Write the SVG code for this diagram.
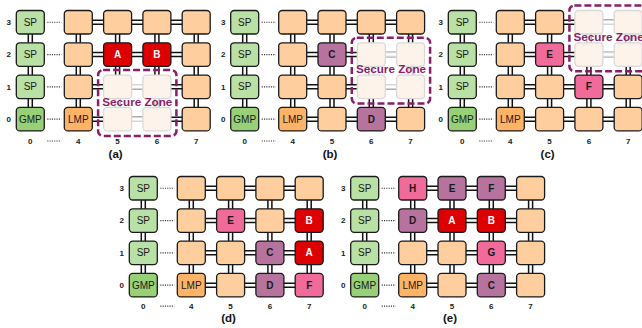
<svg xmlns="http://www.w3.org/2000/svg" width="642" height="328" viewBox="0 0 642 328">
<style>
.n{stroke:#1a1a1a;stroke-width:1.3}
.pl{fill:#ffce9f}.sp{fill:#b9e0a5}.gmp{fill:#97d077}.lmp{fill:#ffb366}.red{fill:#dd0000}.pur{fill:#b5739d}.pink{fill:#f06a9a}
.zc{fill:#fdf3ea;stroke:#d9d9d9;stroke-width:1.3}
text{font-family:"Liberation Sans",Arial,sans-serif;text-anchor:middle}
.t{font-size:10px;fill:#1a1a1a}
.tb{font-size:10px;font-weight:bold;fill:#1a1a1a}
.tw{font-size:10px;font-weight:bold;fill:#ffffff}
.lab{font-size:8px;font-weight:bold;fill:#222}
.cap{font-size:11.5px;font-weight:bold;fill:#111}
.lo{fill:none;stroke:#111;stroke-width:5.5}
.go{fill:none;stroke:#d6d6d6;stroke-width:5.5}
.li{fill:none;stroke:#fff;stroke-width:2.5}
.dot{fill:none;stroke:#333;stroke-width:1.2;stroke-dasharray:1.1 1.2}
.zone{fill:none;stroke:#8b1e6b;stroke-width:2.5;stroke-dasharray:7 3}
.zt{font-size:11.7px;font-weight:bold;fill:#8b1e6b}
</style>
<defs>
<path id="grid" d="M14 12V108M62 12V108M101.3 12V108M140.6 12V108M179.9 12V108M62 11.75H180M62 44.05H180M62 76.35H180M62 108.65H180"/>
<path id="dots" d="M31 11.75H45M31 44.05H45M31 76.35H45M31 108.65H45"/>
</defs>

<!-- Panel (a) -->
<g id="panel-a" transform="translate(16.3,10.5)">
<g id="a-links">
<use href="#grid" class="lo"/><use href="#grid" class="li"/>
<path class="go" d="M101.3 76.35V108.65M140.6 76.35V108.65M101.3 76.35H140.6M101.3 108.65H140.6"/>
<path class="li" d="M101.3 76.35V108.65M140.6 76.35V108.65M101.3 76.35H140.6M101.3 108.65H140.6"/>
<use href="#dots" class="dot"/>
</g>
<g id="a-c0r3"><rect class="n sp" x="0" y="0" width="28" height="23.5" rx="3.5"/><text class="t" x="14" y="15.3">SP</text></g>
<g id="a-c0r2"><rect class="n sp" x="0" y="32.3" width="28" height="23.5" rx="3.5"/><text class="t" x="14" y="47.6">SP</text></g>
<g id="a-c0r1"><rect class="n sp" x="0" y="64.6" width="28" height="23.5" rx="3.5"/><text class="t" x="14" y="79.9">SP</text></g>
<g id="a-c0r0"><rect class="n gmp" x="0" y="96.9" width="28" height="23.5" rx="3.5"/><text class="t" x="14" y="112.2">GMP</text></g>
<g id="a-c4r3"><rect class="n pl" x="48" y="0" width="28" height="23.5" rx="3.5"/></g>
<g id="a-c4r2"><rect class="n pl" x="48" y="32.3" width="28" height="23.5" rx="3.5"/></g>
<g id="a-c4r1"><rect class="n pl" x="48" y="64.6" width="28" height="23.5" rx="3.5"/></g>
<g id="a-c4r0"><rect class="n lmp" x="48" y="96.9" width="28" height="23.5" rx="3.5"/><text class="t" x="62" y="112.2">LMP</text></g>
<g id="a-c5r3"><rect class="n pl" x="87.3" y="0" width="28" height="23.5" rx="3.5"/></g>
<g id="a-c5r2"><rect class="n red" x="87.3" y="32.3" width="28" height="23.5" rx="3.5"/><text class="tw" x="101.3" y="47.6">A</text></g>
<g id="a-c5r1"><rect class="zc" x="87.3" y="64.6" width="28" height="23.5" rx="3.5"/></g>
<g id="a-c5r0"><rect class="zc" x="87.3" y="96.9" width="28" height="23.5" rx="3.5"/></g>
<g id="a-c6r3"><rect class="n pl" x="126.6" y="0" width="28" height="23.5" rx="3.5"/></g>
<g id="a-c6r2"><rect class="n red" x="126.6" y="32.3" width="28" height="23.5" rx="3.5"/><text class="tw" x="140.6" y="47.6">B</text></g>
<g id="a-c6r1"><rect class="zc" x="126.6" y="64.6" width="28" height="23.5" rx="3.5"/></g>
<g id="a-c6r0"><rect class="zc" x="126.6" y="96.9" width="28" height="23.5" rx="3.5"/></g>
<g id="a-c7r3"><rect class="n pl" x="165.9" y="0" width="28" height="23.5" rx="3.5"/></g>
<g id="a-c7r2"><rect class="n pl" x="165.9" y="32.3" width="28" height="23.5" rx="3.5"/></g>
<g id="a-c7r1"><rect class="n pl" x="165.9" y="64.6" width="28" height="23.5" rx="3.5"/></g>
<g id="a-c7r0"><rect class="n pl" x="165.9" y="96.9" width="28" height="23.5" rx="3.5"/></g>
<g id="a-zone"><rect class="zone" x="81.8" y="59.6" width="78.3" height="65.8" rx="5"/><text class="zt" x="121" y="95.2">Secure Zone</text></g>
<g id="a-labels">
<text class="lab" x="-7.5" y="14.6">3</text><text class="lab" x="-7.5" y="46.9">2</text><text class="lab" x="-7.5" y="79.2">1</text><text class="lab" x="-7.5" y="111.5">0</text>
<text class="lab" x="14" y="133.3">0</text><text class="lab" x="62" y="133.3">4</text><text class="lab" x="101.3" y="133.3">5</text><text class="lab" x="140.6" y="133.3">6</text><text class="lab" x="179.9" y="133.3">7</text>
<path class="dot" d="M31 130.5H45"/>
<text class="cap" x="99.3" y="147">(a)</text>
</g>
</g>

<!-- Panel (b) -->
<g id="panel-b" transform="translate(230.7,10.5)">
<g id="b-links">
<use href="#grid" class="lo"/><use href="#grid" class="li"/>
<path class="go" d="M140.6 44.05V76.35M179.9 44.05V76.35M140.6 44.05H179.9M140.6 76.35H179.9"/>
<path class="li" d="M140.6 44.05V76.35M179.9 44.05V76.35M140.6 44.05H179.9M140.6 76.35H179.9"/>
<use href="#dots" class="dot"/>
</g>
<g id="b-c0r3"><rect class="n sp" x="0" y="0" width="28" height="23.5" rx="3.5"/><text class="t" x="14" y="15.3">SP</text></g>
<g id="b-c0r2"><rect class="n sp" x="0" y="32.3" width="28" height="23.5" rx="3.5"/><text class="t" x="14" y="47.6">SP</text></g>
<g id="b-c0r1"><rect class="n sp" x="0" y="64.6" width="28" height="23.5" rx="3.5"/><text class="t" x="14" y="79.9">SP</text></g>
<g id="b-c0r0"><rect class="n gmp" x="0" y="96.9" width="28" height="23.5" rx="3.5"/><text class="t" x="14" y="112.2">GMP</text></g>
<g id="b-c4r3"><rect class="n pl" x="48" y="0" width="28" height="23.5" rx="3.5"/></g>
<g id="b-c4r2"><rect class="n pl" x="48" y="32.3" width="28" height="23.5" rx="3.5"/></g>
<g id="b-c4r1"><rect class="n pl" x="48" y="64.6" width="28" height="23.5" rx="3.5"/></g>
<g id="b-c4r0"><rect class="n lmp" x="48" y="96.9" width="28" height="23.5" rx="3.5"/><text class="t" x="62" y="112.2">LMP</text></g>
<g id="b-c5r3"><rect class="n pl" x="87.3" y="0" width="28" height="23.5" rx="3.5"/></g>
<g id="b-c5r2"><rect class="n pur" x="87.3" y="32.3" width="28" height="23.5" rx="3.5"/><text class="tb" x="101.3" y="47.6">C</text></g>
<g id="b-c5r1"><rect class="n pl" x="87.3" y="64.6" width="28" height="23.5" rx="3.5"/></g>
<g id="b-c5r0"><rect class="n pl" x="87.3" y="96.9" width="28" height="23.5" rx="3.5"/></g>
<g id="b-c6r3"><rect class="n pl" x="126.6" y="0" width="28" height="23.5" rx="3.5"/></g>
<g id="b-c6r2"><rect class="zc" x="126.6" y="32.3" width="28" height="23.5" rx="3.5"/></g>
<g id="b-c6r1"><rect class="zc" x="126.6" y="64.6" width="28" height="23.5" rx="3.5"/></g>
<g id="b-c6r0"><rect class="n pur" x="126.6" y="96.9" width="28" height="23.5" rx="3.5"/><text class="tb" x="140.6" y="112.2">D</text></g>
<g id="b-c7r3"><rect class="n pl" x="165.9" y="0" width="28" height="23.5" rx="3.5"/></g>
<g id="b-c7r2"><rect class="zc" x="165.9" y="32.3" width="28" height="23.5" rx="3.5"/></g>
<g id="b-c7r1"><rect class="zc" x="165.9" y="64.6" width="28" height="23.5" rx="3.5"/></g>
<g id="b-c7r0"><rect class="n pl" x="165.9" y="96.9" width="28" height="23.5" rx="3.5"/></g>
<g id="b-zone"><rect class="zone" x="121.1" y="27.3" width="78.3" height="65.8" rx="5"/><text class="zt" x="160.3" y="62.9">Secure Zone</text></g>
<g id="b-labels">
<text class="lab" x="-7.5" y="14.6">3</text><text class="lab" x="-7.5" y="46.9">2</text><text class="lab" x="-7.5" y="79.2">1</text><text class="lab" x="-7.5" y="111.5">0</text>
<text class="lab" x="14" y="133.3">0</text><text class="lab" x="62" y="133.3">4</text><text class="lab" x="101.3" y="133.3">5</text><text class="lab" x="140.6" y="133.3">6</text><text class="lab" x="179.9" y="133.3">7</text>
<path class="dot" d="M31 130.5H45"/>
<text class="cap" x="99.3" y="147">(b)</text>
</g>
</g>

<!-- Panel (c) -->
<g id="panel-c" transform="translate(448.3,10.5)">
<g id="c-links">
<use href="#grid" class="lo"/><use href="#grid" class="li"/>
<path class="go" d="M140.6 11.75V44.05M179.9 11.75V44.05M140.6 11.75H179.9M140.6 44.05H179.9"/>
<path class="li" d="M140.6 11.75V44.05M179.9 11.75V44.05M140.6 11.75H179.9M140.6 44.05H179.9"/>
<use href="#dots" class="dot"/>
</g>
<g id="c-c0r3"><rect class="n sp" x="0" y="0" width="28" height="23.5" rx="3.5"/><text class="t" x="14" y="15.3">SP</text></g>
<g id="c-c0r2"><rect class="n sp" x="0" y="32.3" width="28" height="23.5" rx="3.5"/><text class="t" x="14" y="47.6">SP</text></g>
<g id="c-c0r1"><rect class="n sp" x="0" y="64.6" width="28" height="23.5" rx="3.5"/><text class="t" x="14" y="79.9">SP</text></g>
<g id="c-c0r0"><rect class="n gmp" x="0" y="96.9" width="28" height="23.5" rx="3.5"/><text class="t" x="14" y="112.2">GMP</text></g>
<g id="c-c4r3"><rect class="n pl" x="48" y="0" width="28" height="23.5" rx="3.5"/></g>
<g id="c-c4r2"><rect class="n pl" x="48" y="32.3" width="28" height="23.5" rx="3.5"/></g>
<g id="c-c4r1"><rect class="n pl" x="48" y="64.6" width="28" height="23.5" rx="3.5"/></g>
<g id="c-c4r0"><rect class="n lmp" x="48" y="96.9" width="28" height="23.5" rx="3.5"/><text class="t" x="62" y="112.2">LMP</text></g>
<g id="c-c5r3"><rect class="n pl" x="87.3" y="0" width="28" height="23.5" rx="3.5"/></g>
<g id="c-c5r2"><rect class="n pink" x="87.3" y="32.3" width="28" height="23.5" rx="3.5"/><text class="tb" x="101.3" y="47.6">E</text></g>
<g id="c-c5r1"><rect class="n pl" x="87.3" y="64.6" width="28" height="23.5" rx="3.5"/></g>
<g id="c-c5r0"><rect class="n pl" x="87.3" y="96.9" width="28" height="23.5" rx="3.5"/></g>
<g id="c-c6r3"><rect class="zc" x="126.6" y="0" width="28" height="23.5" rx="3.5"/></g>
<g id="c-c6r2"><rect class="zc" x="126.6" y="32.3" width="28" height="23.5" rx="3.5"/></g>
<g id="c-c6r1"><rect class="n pink" x="126.6" y="64.6" width="28" height="23.5" rx="3.5"/><text class="tb" x="140.6" y="79.9">F</text></g>
<g id="c-c6r0"><rect class="n pl" x="126.6" y="96.9" width="28" height="23.5" rx="3.5"/></g>
<g id="c-c7r3"><rect class="zc" x="165.9" y="0" width="28" height="23.5" rx="3.5"/></g>
<g id="c-c7r2"><rect class="zc" x="165.9" y="32.3" width="28" height="23.5" rx="3.5"/></g>
<g id="c-c7r1"><rect class="n pl" x="165.9" y="64.6" width="28" height="23.5" rx="3.5"/></g>
<g id="c-c7r0"><rect class="n pl" x="165.9" y="96.9" width="28" height="23.5" rx="3.5"/></g>
<g id="c-zone"><rect class="zone" x="121.1" y="-5" width="78.3" height="65.8" rx="5"/><text class="zt" x="160.3" y="30.6">Secure Zone</text></g>
<g id="c-labels">
<text class="lab" x="-7.5" y="14.6">3</text><text class="lab" x="-7.5" y="46.9">2</text><text class="lab" x="-7.5" y="79.2">1</text><text class="lab" x="-7.5" y="111.5">0</text>
<text class="lab" x="14" y="133.3">0</text><text class="lab" x="62" y="133.3">4</text><text class="lab" x="101.3" y="133.3">5</text><text class="lab" x="140.6" y="133.3">6</text><text class="lab" x="179.9" y="133.3">7</text>
<path class="dot" d="M31 130.5H45"/>
<text class="cap" x="99.3" y="147">(c)</text>
</g>
</g>

<!-- Panel (d) -->
<g id="panel-d" transform="translate(129.3,176.5)">
<g id="d-links">
<use href="#grid" class="lo"/><use href="#grid" class="li"/>
<use href="#dots" class="dot"/>
</g>
<g id="d-c0r3"><rect class="n sp" x="0" y="0" width="28" height="23.5" rx="3.5"/><text class="t" x="14" y="15.3">SP</text></g>
<g id="d-c0r2"><rect class="n sp" x="0" y="32.3" width="28" height="23.5" rx="3.5"/><text class="t" x="14" y="47.6">SP</text></g>
<g id="d-c0r1"><rect class="n sp" x="0" y="64.6" width="28" height="23.5" rx="3.5"/><text class="t" x="14" y="79.9">SP</text></g>
<g id="d-c0r0"><rect class="n gmp" x="0" y="96.9" width="28" height="23.5" rx="3.5"/><text class="t" x="14" y="112.2">GMP</text></g>
<g id="d-c4r3"><rect class="n pl" x="48" y="0" width="28" height="23.5" rx="3.5"/></g>
<g id="d-c4r2"><rect class="n pl" x="48" y="32.3" width="28" height="23.5" rx="3.5"/></g>
<g id="d-c4r1"><rect class="n pl" x="48" y="64.6" width="28" height="23.5" rx="3.5"/></g>
<g id="d-c4r0"><rect class="n lmp" x="48" y="96.9" width="28" height="23.5" rx="3.5"/><text class="t" x="62" y="112.2">LMP</text></g>
<g id="d-c5r3"><rect class="n pl" x="87.3" y="0" width="28" height="23.5" rx="3.5"/></g>
<g id="d-c5r2"><rect class="n pink" x="87.3" y="32.3" width="28" height="23.5" rx="3.5"/><text class="tb" x="101.3" y="47.6">E</text></g>
<g id="d-c5r1"><rect class="n pl" x="87.3" y="64.6" width="28" height="23.5" rx="3.5"/></g>
<g id="d-c5r0"><rect class="n pl" x="87.3" y="96.9" width="28" height="23.5" rx="3.5"/></g>
<g id="d-c6r3"><rect class="n pl" x="126.6" y="0" width="28" height="23.5" rx="3.5"/></g>
<g id="d-c6r2"><rect class="n pl" x="126.6" y="32.3" width="28" height="23.5" rx="3.5"/></g>
<g id="d-c6r1"><rect class="n pur" x="126.6" y="64.6" width="28" height="23.5" rx="3.5"/><text class="tb" x="140.6" y="79.9">C</text></g>
<g id="d-c6r0"><rect class="n pur" x="126.6" y="96.9" width="28" height="23.5" rx="3.5"/><text class="tb" x="140.6" y="112.2">D</text></g>
<g id="d-c7r3"><rect class="n pl" x="165.9" y="0" width="28" height="23.5" rx="3.5"/></g>
<g id="d-c7r2"><rect class="n red" x="165.9" y="32.3" width="28" height="23.5" rx="3.5"/><text class="tw" x="179.9" y="47.6">B</text></g>
<g id="d-c7r1"><rect class="n red" x="165.9" y="64.6" width="28" height="23.5" rx="3.5"/><text class="tw" x="179.9" y="79.9">A</text></g>
<g id="d-c7r0"><rect class="n pink" x="165.9" y="96.9" width="28" height="23.5" rx="3.5"/><text class="tb" x="179.9" y="112.2">F</text></g>
<g id="d-labels">
<text class="lab" x="-7.5" y="14.6">3</text><text class="lab" x="-7.5" y="46.9">2</text><text class="lab" x="-7.5" y="79.2">1</text><text class="lab" x="-7.5" y="111.5">0</text>
<text class="lab" x="14" y="132.5">0</text><text class="lab" x="62" y="132.5">4</text><text class="lab" x="101.3" y="132.5">5</text><text class="lab" x="140.6" y="132.5">6</text><text class="lab" x="179.9" y="132.5">7</text>
<path class="dot" d="M31 129.7H45"/>
<text class="cap" x="99.3" y="145">(d)</text>
</g>
</g>

<!-- Panel (e) -->
<g id="panel-e" transform="translate(350.7,176.5)">
<g id="e-links">
<use href="#grid" class="lo"/><use href="#grid" class="li"/>
<use href="#dots" class="dot"/>
</g>
<g id="e-c0r3"><rect class="n sp" x="0" y="0" width="28" height="23.5" rx="3.5"/><text class="t" x="14" y="15.3">SP</text></g>
<g id="e-c0r2"><rect class="n sp" x="0" y="32.3" width="28" height="23.5" rx="3.5"/><text class="t" x="14" y="47.6">SP</text></g>
<g id="e-c0r1"><rect class="n sp" x="0" y="64.6" width="28" height="23.5" rx="3.5"/><text class="t" x="14" y="79.9">SP</text></g>
<g id="e-c0r0"><rect class="n gmp" x="0" y="96.9" width="28" height="23.5" rx="3.5"/><text class="t" x="14" y="112.2">GMP</text></g>
<g id="e-c4r3"><rect class="n pink" x="48" y="0" width="28" height="23.5" rx="3.5"/><text class="tb" x="62" y="15.3">H</text></g>
<g id="e-c4r2"><rect class="n pur" x="48" y="32.3" width="28" height="23.5" rx="3.5"/><text class="tb" x="62" y="47.6">D</text></g>
<g id="e-c4r1"><rect class="n pl" x="48" y="64.6" width="28" height="23.5" rx="3.5"/></g>
<g id="e-c4r0"><rect class="n lmp" x="48" y="96.9" width="28" height="23.5" rx="3.5"/><text class="t" x="62" y="112.2">LMP</text></g>
<g id="e-c5r3"><rect class="n pur" x="87.3" y="0" width="28" height="23.5" rx="3.5"/><text class="tb" x="101.3" y="15.3">E</text></g>
<g id="e-c5r2"><rect class="n red" x="87.3" y="32.3" width="28" height="23.5" rx="3.5"/><text class="tw" x="101.3" y="47.6">A</text></g>
<g id="e-c5r1"><rect class="n pl" x="87.3" y="64.6" width="28" height="23.5" rx="3.5"/></g>
<g id="e-c5r0"><rect class="n pl" x="87.3" y="96.9" width="28" height="23.5" rx="3.5"/></g>
<g id="e-c6r3"><rect class="n pur" x="126.6" y="0" width="28" height="23.5" rx="3.5"/><text class="tb" x="140.6" y="15.3">F</text></g>
<g id="e-c6r2"><rect class="n red" x="126.6" y="32.3" width="28" height="23.5" rx="3.5"/><text class="tw" x="140.6" y="47.6">B</text></g>
<g id="e-c6r1"><rect class="n pink" x="126.6" y="64.6" width="28" height="23.5" rx="3.5"/><text class="tb" x="140.6" y="79.9">G</text></g>
<g id="e-c6r0"><rect class="n pur" x="126.6" y="96.9" width="28" height="23.5" rx="3.5"/><text class="tb" x="140.6" y="112.2">C</text></g>
<g id="e-c7r3"><rect class="n pl" x="165.9" y="0" width="28" height="23.5" rx="3.5"/></g>
<g id="e-c7r2"><rect class="n pl" x="165.9" y="32.3" width="28" height="23.5" rx="3.5"/></g>
<g id="e-c7r1"><rect class="n pl" x="165.9" y="64.6" width="28" height="23.5" rx="3.5"/></g>
<g id="e-c7r0"><rect class="n pl" x="165.9" y="96.9" width="28" height="23.5" rx="3.5"/></g>
<g id="e-labels">
<text class="lab" x="-7.5" y="14.6">3</text><text class="lab" x="-7.5" y="46.9">2</text><text class="lab" x="-7.5" y="79.2">1</text><text class="lab" x="-7.5" y="111.5">0</text>
<text class="lab" x="14" y="132.5">0</text><text class="lab" x="62" y="132.5">4</text><text class="lab" x="101.3" y="132.5">5</text><text class="lab" x="140.6" y="132.5">6</text><text class="lab" x="179.9" y="132.5">7</text>
<path class="dot" d="M31 129.7H45"/>
<text class="cap" x="99.3" y="145">(e)</text>
</g>
</g>
</svg>
